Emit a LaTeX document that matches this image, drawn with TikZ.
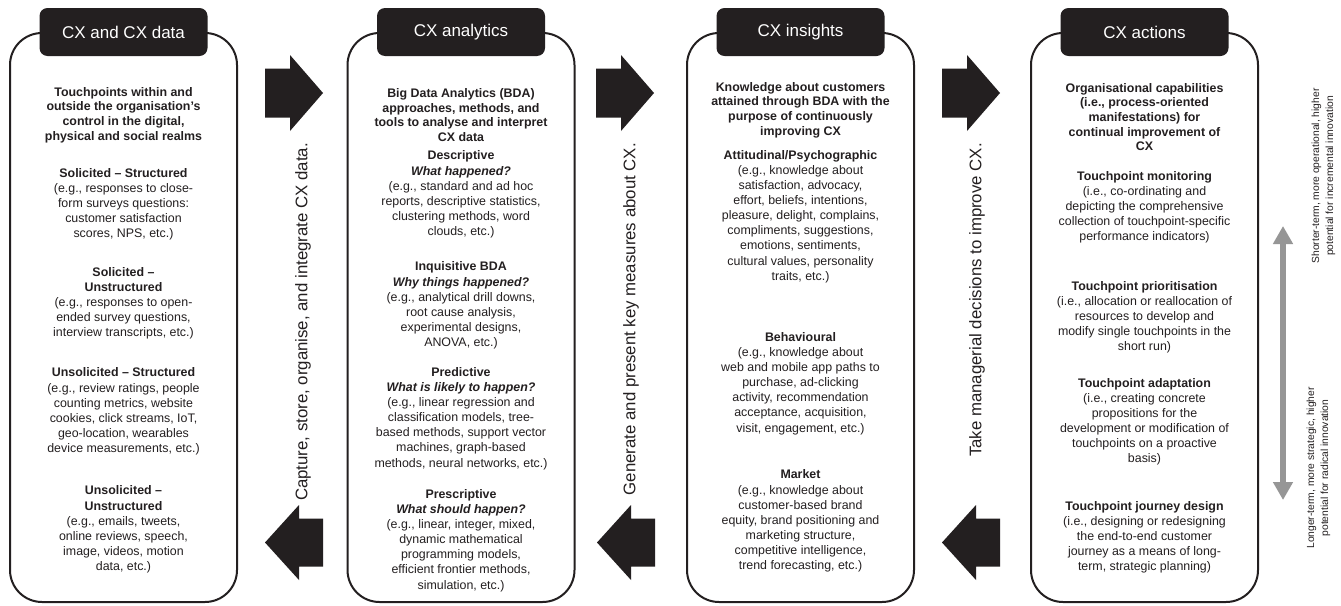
\documentclass[tikz,border=0pt]{standalone}
\usepackage{fontspec}
\setmainfont{Liberation Sans}
\usetikzlibrary{arrows.meta}
\definecolor{ink}{RGB}{35,31,32}
\definecolor{arrowgray}{RGB}{150,150,150}
\tikzset{
  cxbox/.style={draw=ink, line width=2pt, rounded corners=32pt, minimum width=227pt, minimum height=569pt, inner sep=0pt, fill=white},
  cxhead/.style={fill=ink, text=white, rounded corners=8pt, minimum width=168pt, minimum height=48pt, inner sep=0pt, font=\fontsize{17}{20}\selectfont},
  bodytext/.style={align=center, inner sep=0pt, text=ink, font=\fontsize{12.4}{15.1}\selectfont},
  introtext/.style={align=center, inner sep=0pt, text=ink, font=\fontsize{12.4}{14.6}\selectfont\bfseries},
  flowtext/.style={rotate=90, anchor=east, inner sep=0pt, text=ink, font=\fontsize{16.8}{20}\selectfont},
  sidetext/.style={rotate=90, align=center, inner sep=0pt, text=ink, font=\fontsize{10.3}{14}\selectfont},
  blockfill/.style={fill=ink},
  grayarrow/.style={line width=6pt, draw=arrowgray, {Triangle[width=19pt,length=18pt]}-{Triangle[width=19pt,length=18pt]}},
  rarrow/.pic={\fill[blockfill] (0,-24.5) -- (25,-24.5) -- (25,-38) -- (58,0) -- (25,38) -- (25,24.5) -- (0,24.5) -- cycle;},
  larrow/.pic={\fill[blockfill] (0,0) -- (34,-37.5) -- (34,-24) -- (58,-24) -- (58,24) -- (34,24) -- (34,37.5) -- cycle;},
}
\newcommand{\bi}[1]{\textbf{\textit{#1}}}
\begin{document}
\begin{tikzpicture}[x=1pt,y=-1pt]
\useasboundingbox[fill=white] (0,0) rectangle (1341,605);

% boxes and headers
\node[cxbox] (box1) at (123.5,317.5) {};
\node[cxbox] (box2) at (461,317.5) {};
\node[cxbox] (box3) at (800.5,317.5) {};
\node[cxbox] (box4) at (1144.5,317.5) {};
\node[cxhead] (h1) at (box1.north) {CX and CX data};
\node[cxhead] (h2) at (box2.north) {CX analytics};
\node[cxhead] (h3) at (box3.north) {CX insights};
\node[cxhead] (h4) at (box4.north) {CX actions};

% column 1
\node[introtext] (c1a) at (123.5,115) {Touchpoints within and\\outside the organisation’s\\control in the digital,\\physical and social realms};
\node[bodytext] (c1b) at (123.5,204) {\textbf{Solicited – Structured}\\(e.g., responses to close-\\form surveys questions:\\customer satisfaction\\scores, NPS, etc.)};
\node[bodytext] (c1c) at (123.5,303) {\textbf{Solicited –}\\\textbf{Unstructured}\\(e.g., responses to open-\\ended survey questions,\\interview transcripts, etc.)};
\node[bodytext] (c1d) at (123.5,411.5) {\textbf{Unsolicited – Structured}\\(e.g., review ratings, people\\counting metrics, website\\cookies, click streams, IoT,\\geo-location, wearables\\device measurements, etc.)};
\node[bodytext] (c1e) at (123.5,529.5) {\textbf{Unsolicited –}\\\textbf{Unstructured}\\(e.g., emails, tweets,\\online reviews, speech,\\image, videos, motion\\data, etc.)};

% column 2
\node[introtext] (c2a) at (461,115) {Big Data Analytics (BDA)\\approaches, methods, and\\tools to analyse and interpret\\CX data};
\node[bodytext] (c2b) at (461,194.5) {\textbf{Descriptive}\\\bi{What happened?}\\(e.g., standard and ad hoc\\reports, descriptive statistics,\\clustering methods, word\\clouds, etc.)};
\node[bodytext] (c2c) at (461,305.5) {\textbf{Inquisitive BDA}\\\bi{Why things happened?}\\(e.g., analytical drill downs,\\root cause analysis,\\experimental designs,\\ANOVA, etc.)};
\node[bodytext] (c2d) at (461,418.5) {\textbf{Predictive}\\\bi{What is likely to happen?}\\(e.g., linear regression and\\classification models, tree-\\based methods, support vector\\machines, graph-based\\methods, neural networks, etc.)};
\node[bodytext] (c2e) at (461,540.5) {\textbf{Prescriptive}\\\bi{What should happen?}\\(e.g., linear, integer, mixed,\\dynamic mathematical\\programming models,\\efficient frontier methods,\\simulation, etc.)};

% column 3
\node[introtext] (c3a) at (800.5,110) {Knowledge about customers\\attained through BDA with the\\purpose of continuously\\improving CX};
\node[bodytext] (c3b) at (800.5,216.5) {\textbf{Attitudinal/Psychographic}\\(e.g., knowledge about\\satisfaction, advocacy,\\effort, beliefs, intentions,\\pleasure, delight, complains,\\compliments, suggestions,\\emotions, sentiments,\\cultural values, personality\\traits, etc.)};
\node[bodytext] (c3c) at (800.5,383.5) {\textbf{Behavioural}\\(e.g., knowledge about\\web and mobile app paths to\\purchase, ad-clicking\\activity, recommendation\\acceptance, acquisition,\\visit, engagement, etc.)};
\node[bodytext] (c3d) at (800.5,521) {\textbf{Market}\\(e.g., knowledge about\\customer-based brand\\equity, brand positioning and\\marketing structure,\\competitive intelligence,\\trend forecasting, etc.)};

% column 4
\node[introtext] (c4a) at (1144.5,117) {Organisational capabilities\\(i.e., process-oriented\\manifestations) for\\continual improvement of\\CX};
\node[bodytext] (c4b) at (1144.5,207) {\textbf{Touchpoint monitoring}\\(i.e., co-ordinating and\\depicting the comprehensive\\collection of touchpoint-specific\\performance indicators)};
\node[bodytext] (c4c) at (1144.5,317) {\textbf{Touchpoint prioritisation}\\(i.e., allocation or reallocation of\\resources to develop and\\modify single touchpoints in the\\short run)};
\node[bodytext] (c4d) at (1144.5,422) {\textbf{Touchpoint adaptation}\\(i.e., creating concrete\\propositions for the\\development or modification of\\touchpoints on a proactive\\basis)};
\node[bodytext] (c4e) at (1144.5,537) {\textbf{Touchpoint journey design}\\(i.e., designing or redesigning\\the end-to-end customer\\journey as a means of long-\\term, strategic planning)};

% block arrows
\pic at (265,93) {rarrow};
\pic at (596,93) {rarrow};
\pic at (942,93) {rarrow};
\pic at (265,542.5) {larrow};
\pic at (597,542.5) {larrow};
\pic at (942,542.5) {larrow};

% flow texts
\node[flowtext] (f1) at (303,143) {Capture, store, organise, and integrate CX data.};
\node[flowtext] (f2) at (631,143) {Generate and present key measures about CX.};
\node[flowtext] (f3) at (977,143) {Take managerial decisions to improve CX.};

% gray double arrow and side texts
\coordinate (gtop) at (1283,226);
\coordinate (gbot) at (1283,500);
\draw[grayarrow] (gtop) -- (gbot);
\node[sidetext] (s1) at (1323.5,176) {Shorter-term, more operational, higher\\potential for incremental innovation};
\node[sidetext] (s2) at (1318.5,468) {Longer-term, more strategic, higher\\potential for radical innovation};
\end{tikzpicture}
\end{document}
